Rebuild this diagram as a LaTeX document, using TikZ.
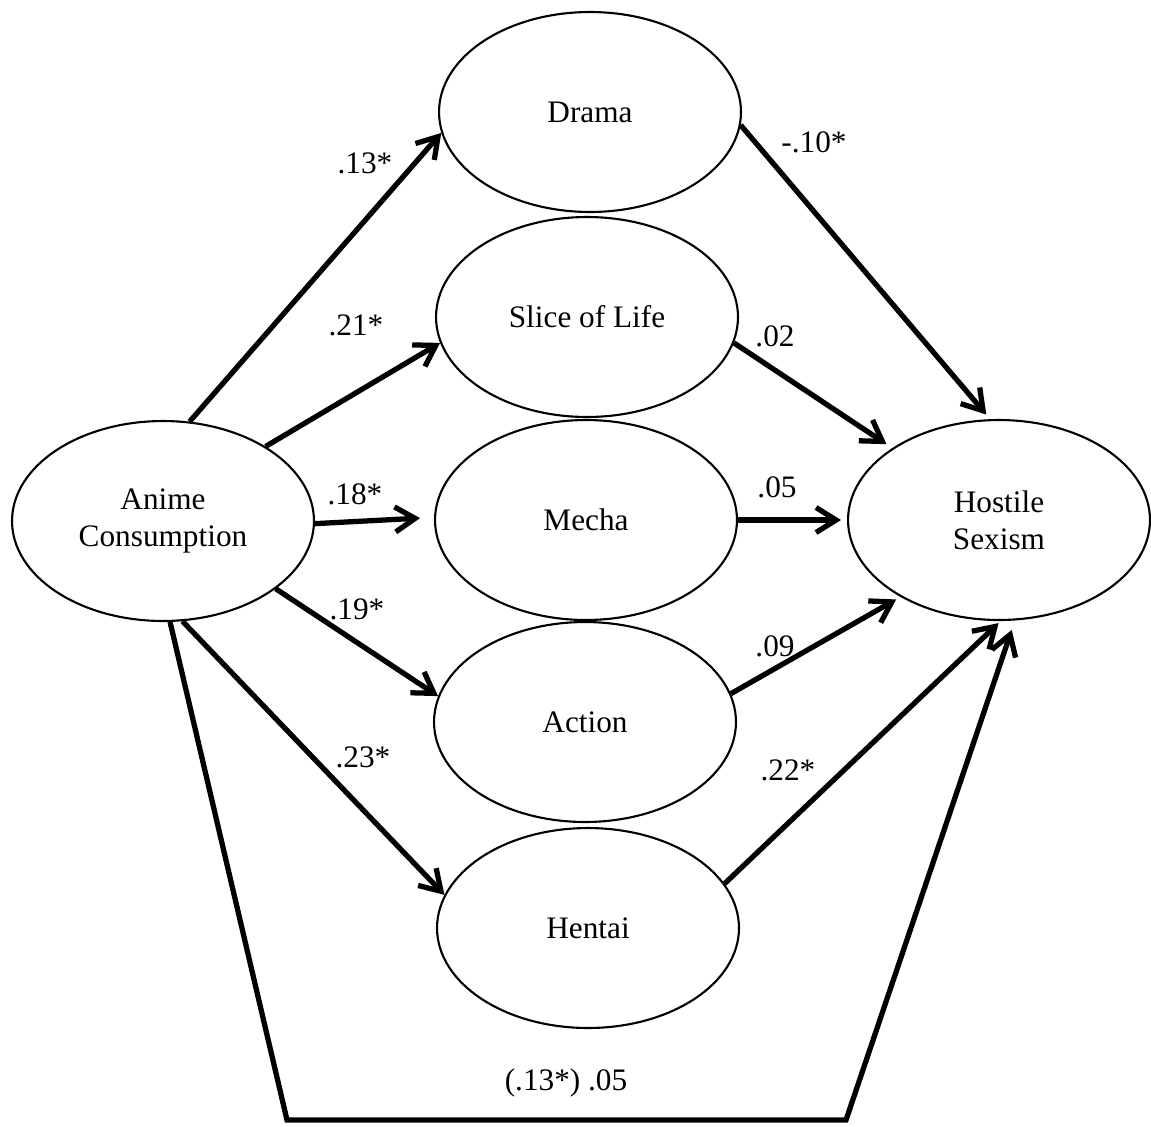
\documentclass[tikz,border=0pt]{standalone}
\usepackage{fontspec}
\setmainfont{Liberation Serif}
\usetikzlibrary{arrows.meta, shapes.geometric, calc}

\begin{document}
\begin{tikzpicture}[x=0.02cm, y=-0.02cm, every text node part/.style={align=center},
  font=\fontsize{17.8}{21}\selectfont]

\tikzstyle{latent}=[draw, ellipse, line width=1.2pt, inner sep=0pt, minimum width=6.04cm, minimum height=4cm]
\tikzstyle{arr}=[draw, line width=3pt, -{Straight Barb[length=0.4cm, width=0.5cm]}]
\tikzstyle{coef}=[inner sep=0pt]

\useasboundingbox (0, 0) rectangle (1151, 1126);

\node (anime)   [latent] at (163, 521)  {Anime\\Consumption};
\node (drama)   [latent] at (590, 112)  {Drama};
\node (slice)   [latent] at (587, 317)  {Slice of Life};
\node (mecha)   [latent] at (586, 520)  {Mecha};
\node (action)  [latent] at (585, 722)  {Action};
\node (hentai)  [latent] at (588, 928)  {Hentai};
\node (hostile) [latent] at (999, 520)  {Hostile\\Sexism};

\coordinate (cornerL) at (287, 1120);
\coordinate (cornerR) at (846, 1120);

\path [arr] (anime.75)  -- (drama.188);
\path [arr] (anime.36)  -- (slice.190);
\path [arr, shorten >=0.28cm] (anime.-1) -- (mecha.179);
\path [arr] (anime.-31) -- (action.170);
\path [arr] (anime.-79) -- (hentai.167);
\path [arr, shorten >=0.2cm] (anime.-86)
    -- (cornerL)
    -- (cornerR)
    -- (hostile.-81)
;

\path [arr, shorten >=0.12cm] (drama.-5)  -- (hostile.95);
\path [arr, shorten >=0.14cm] (slice.-10) -- (hostile.146);
\path [arr, shorten >=0.12cm] (mecha.0)   -- (hostile.180);
\path [arr, shorten >=0.1cm]  (action.11) -- (hostile.218);
\path [arr, shorten >=0.06cm] (hentai.18) -- (hostile.-89);

% path coefficients
\node (c13) [coef] at (365, 163)  {.13*};
\node (c21) [coef] at (356, 325)  {.21*};
\node (c18) [coef] at (355, 494)  {.18*};
\node (c19) [coef] at (357, 609)  {.19*};
\node (c23) [coef] at (363, 757)  {.23*};
\node (d10) [coef] at (814, 142)  {-.10*};
\node (d02) [coef] at (775, 336)  {.02};
\node (d05) [coef] at (777, 487)  {.05};
\node (d09) [coef] at (775, 646)  {.09};
\node (d22) [coef] at (788, 770)  {.22*};
\node (tot) [coef] at (566, 1083) {(.13*) .05};
\end{tikzpicture}
\end{document}
